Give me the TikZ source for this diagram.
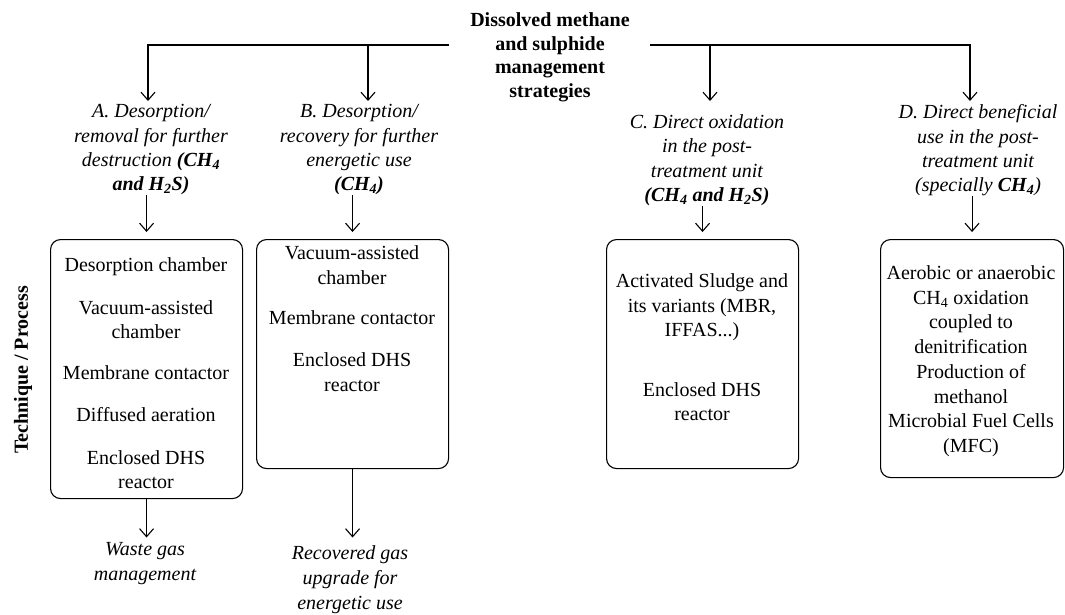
\documentclass[tikz,border=0pt]{standalone}
\usepackage{fontspec}
\setmainfont{Liberation Serif}
\usetikzlibrary{arrows.meta}
\begin{document}
\begin{tikzpicture}[x=1pt,y=-1pt,
  every node/.style={inner sep=0pt, align=center, font=\fontsize{20}{24.5}\selectfont},
  arr/.style={-{Straight Barb[length=8pt,width=14pt]}, line width=1.1pt},
  box/.style={draw, line width=1.1pt, rounded corners=10pt, minimum width=192pt, anchor=north west},
  lab/.style={font=\fontsize{20}{24.3}\selectfont\itshape, anchor=north},
  boxtext/.style={anchor=north},
  titlestyle/.style={font=\fontsize{20}{23.7}\selectfont\bfseries, anchor=north}
]
\useasboundingbox (0,0) rectangle (1065,614);

% title
\node[titlestyle] (title) at (550,12.5) {Dissolved methane\\and sulphide\\management\\strategies};
\coordinate (tl) at (449,45);
\coordinate (tr) at (650,45);
\coordinate (ta) at (148,101);
\coordinate (tb) at (368,101);
\coordinate (tc) at (710,101);
\coordinate (td) at (970,101);

% strategy labels
\node[lab] (labA) at (151,104.5) {A. Desorption/\\removal for further\\destruction \textbf{(CH\textsubscript{4}}\\\textbf{and H\textsubscript{2}S)}};
\node[lab] (labB) at (359,104.5) {B. Desorption/\\recovery for further\\energetic use\\\textbf{(CH\textsubscript{4})}};
\node[lab] (labC) at (707,114.5) {C. Direct oxidation\\in the post-\\treatment unit\\\textbf{(CH\textsubscript{4} and H\textsubscript{2}S)}};
\node[lab] (labD) at (978,104.5) {D. Direct beneficial\\use in the post-\\treatment unit\\(specially \textbf{CH\textsubscript{4}})};

% boxes
\node[box, minimum height=259pt] (boxA) at (50,239) {};
\node[box, minimum height=229pt] (boxB) at (256,239) {};
\node[box, minimum height=229pt] (boxC) at (606,239) {};
\node[box, minimum height=238pt, minimum width=183pt] (boxD) at (880,239) {};

\node[boxtext] (tA) at (146,257.5) {Desorption chamber\\[18pt]Vacuum-assisted\\chamber\\[16pt]Membrane contactor\\[18pt]Diffused aeration\\[18pt]Enclosed DHS\\reactor};
\node[boxtext] (tB) at (352,245.5) {Vacuum-assisted\\chamber\\[16pt]Membrane contactor\\[17.5pt]Enclosed DHS\\reactor};
\node[boxtext] (tC) at (702,273.5) {Activated Sludge and\\its variants (MBR,\\IFFAS...)\\[35pt]Enclosed DHS\\reactor};
\node[boxtext, font=\fontsize{20}{24.7}\selectfont] (tD) at (971,265.5) {Aerobic or anaerobic\\CH\textsubscript{4} oxidation\\coupled to\\denitrification\\Production of\\methanol\\Microbial Fuel Cells\\(MFC)};

% outcomes
\node[lab, font=\fontsize{20}{25}\selectfont\itshape] (waste) at (145,542.5) {Waste gas\\management};
\node[lab, font=\fontsize{20}{25}\selectfont\itshape] (rec) at (350,545.5) {Recovered gas\\upgrade for\\energetic use};

% side label
\node[rotate=90, font=\fontsize{20}{24}\selectfont\bfseries] (tp) at (23,370) {Technique / Process};

% connectors
\draw[arr] (tl) -| (ta);
\draw[arr] (tb |- tl) -- (tb);
\draw[arr] (tr) -| (td);
\draw[arr] (tc |- tr) -- (tc);

\draw[arr] (labA.south -| boxA.north) -- ([yshift=7pt]boxA.north);
\draw[arr] (labB.south -| boxB.north) -- ([yshift=7pt]boxB.north);
\draw[arr] (labC.south -| boxC.north) -- ([yshift=7pt]boxC.north);
\draw[arr] (labD.south -| boxD.north) -- ([yshift=7pt]boxD.north);

\draw[arr] (boxA.south) -- ([yshift=5pt]boxA.south |- waste.north);
\draw[arr] (boxB.south) -- ([yshift=8pt]boxB.south |- rec.north);
\end{tikzpicture}
\end{document}
